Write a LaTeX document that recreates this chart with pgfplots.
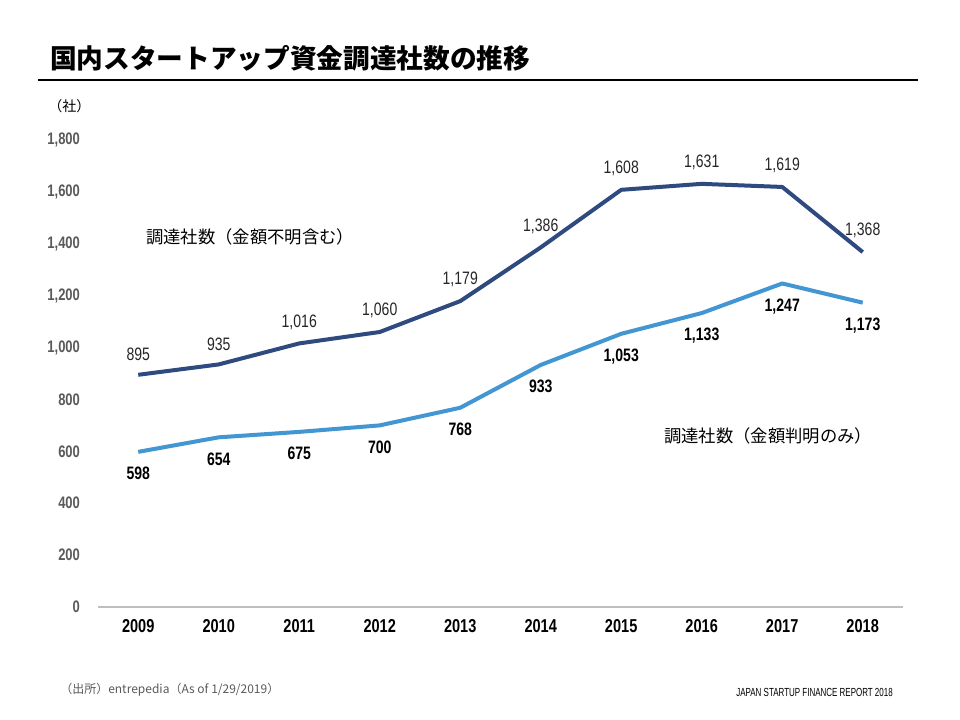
\documentclass[border=0pt]{standalone}
\usepackage{fontspec}
\usepackage{pgfplots}
\pgfplotsset{compat=1.18}
\setmainfont{Liberation Sans}
\newfontfamily\cjk{Noto Sans CJK JP}
\newfontfamily\cond{Liberation Sans}[FakeStretch=0.78]
\newfontfamily\narrow{Liberation Sans}[FakeStretch=0.68]
\definecolor{navy}{RGB}{46,74,127}
\definecolor{sky}{RGB}{66,150,210}
\definecolor{tickgray}{RGB}{90,90,90}
\definecolor{axgray}{RGB}{191,191,191}

\begin{document}
\begin{tikzpicture}[x=0.75pt,y=-0.75pt]
  \fill[white] (0,0) rectangle (960,720);
  % title and rule
  \node[anchor=west,inner sep=0pt] at (50,58) {\cjk\bfseries\fontsize{20}{24}\selectfont 国内スタートアップ資金調達社数の推移};
  \draw[black,line width=0.9pt] (38,80) -- (918,80);
  \node[anchor=west,inner sep=0pt] at (48,106) {\cjk\fontsize{10.5}{12}\selectfont （社）};

  \begin{axis}[
      at={(73.5pt,-455.25pt)}, anchor=south west,
      scale only axis,
      width=603.75pt, height=350.25pt,
      xmin=2008.5, xmax=2018.5,
      ymin=0, ymax=1800,
      axis x line*=bottom,
      axis y line*=left,
      x axis line style={draw=axgray,line width=0.8pt,-},
      y axis line style={draw=none},
      xtick={2009,...,2018},
      ytick={0,200,...,1800},
      major tick length=0pt,
      clip=false,
      /pgf/number format/assume math mode=true,
      x tick label style={font=\cond\bfseries\fontsize{14}{16}\selectfont,
        /pgf/number format/1000 sep={}, yshift=-6pt},
      y tick label style={font=\cond\bfseries\fontsize{12.5}{14}\selectfont,
        text=tickgray, /pgf/number format/1000 sep={,}, xshift=-10pt},
      nodes near coords={\pgfmathprintnumber[1000 sep={,},assume math mode=true]{\pgfplotspointmeta}},
    ]
    \addplot[navy, line width=3pt, line join=round, mark=none,
      every node near coord/.style={anchor=south, inner sep=0pt, yshift=9pt,
        font=\cond\fontsize{13.5}{15}\selectfont, text=black!85}]
      coordinates {(2009,895) (2010,935) (2011,1016) (2012,1060) (2013,1179)
                   (2014,1386) (2015,1608) (2016,1631) (2017,1619) (2018,1368)};
    \addplot[sky, line width=3pt, line join=round, mark=none,
      every node near coord/.style={anchor=north, inner sep=0pt, yshift=-10pt,
        font=\cond\bfseries\fontsize{13.5}{15}\selectfont, text=black}]
      coordinates {(2009,598) (2010,654) (2011,675) (2012,700) (2013,768)
                   (2014,933) (2015,1053) (2016,1133) (2017,1247) (2018,1173)};
  \end{axis}

  % series names
  \node[anchor=west,inner sep=0pt] at (146,237) {\cjk\fontsize{13}{15}\selectfont 調達社数（金額不明含む）};
  \node[anchor=west,inner sep=0pt] at (664,436) {\cjk\fontsize{13}{15}\selectfont 調達社数（金額判明のみ）};

  % footer
  \node[anchor=west,inner sep=0pt,text=tickgray] at (60,690) {\cjk\fontsize{9}{11}\selectfont （出所）entrepedia（As of 1/29/2019）};
  \node[anchor=east,inner sep=0pt] at (893,692) {\narrow\fontsize{8.8}{10}\selectfont JAPAN STARTUP FINANCE REPORT 2018};
\end{tikzpicture}
\end{document}
